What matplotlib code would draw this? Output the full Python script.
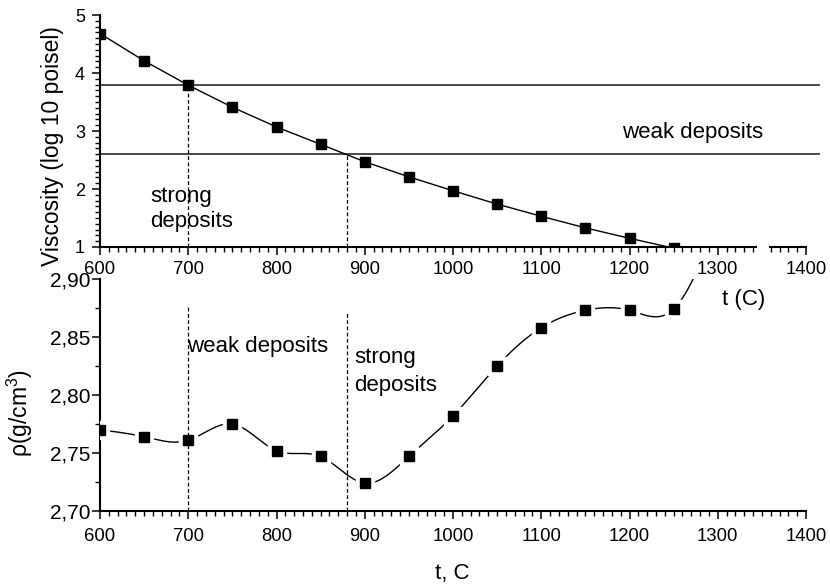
import numpy as np
import matplotlib
matplotlib.use("Agg")
import matplotlib.pyplot as plt
from matplotlib import ticker
from matplotlib.patches import Rectangle

plt.rcParams["font.family"] = ["Liberation Sans", "DejaVu Sans"]
plt.rcParams["mathtext.fontset"] = "custom"
plt.rcParams["mathtext.rm"] = "Liberation Sans"

# --- data -------------------------------------------------------------
visc_temps = [600, 650, 700, 750, 800, 850, 900, 950, 1000, 1050, 1100, 1150, 1200, 1250]
viscosity = [4.68, 4.21, 3.79, 3.41, 3.07, 2.77, 2.47, 2.21, 1.97, 1.74, 1.53, 1.33, 1.15, 0.98]

dens_temps = [600, 650, 700, 750, 800, 850, 900, 950, 1000, 1050, 1100, 1150, 1200, 1250, 1300]
density = [2.770, 2.764, 2.761, 2.775, 2.752, 2.747, 2.724, 2.747, 2.782, 2.825,
           2.858, 2.873, 2.873, 2.874, 2.950]

visc_levels = [3.8, 2.6]          # deposit thresholds (log10 poise)
visc_cut_temps = [700, 880]       # temperatures where thresholds are crossed
dens_cut_tops = [2.876, 2.872]


def natural_spline(x, y, xs):
    x = np.asarray(x, float)
    y = np.asarray(y, float)
    n = len(x)
    h = np.diff(x)
    A = np.zeros((n, n))
    r = np.zeros(n)
    A[0, 0] = 1.0
    A[-1, -1] = 1.0
    for i in range(1, n - 1):
        A[i, i - 1] = h[i - 1]
        A[i, i] = 2 * (h[i - 1] + h[i])
        A[i, i + 1] = h[i]
        r[i] = 6 * ((y[i + 1] - y[i]) / h[i] - (y[i] - y[i - 1]) / h[i - 1])
    M = np.linalg.solve(A, r)
    idx = np.clip(np.searchsorted(x, xs) - 1, 0, n - 2)
    x0, x1 = x[idx], x[idx + 1]
    hh = x1 - x0
    a = x1 - xs
    b = xs - x0
    return (M[idx] * a ** 3 / (6 * hh) + M[idx + 1] * b ** 3 / (6 * hh)
            + (y[idx] / hh - M[idx] * hh / 6) * a
            + (y[idx + 1] / hh - M[idx + 1] * hh / 6) * b)


W, H = 830, 586
fig = plt.figure(figsize=(W / 100, H / 100), dpi=100)

ax1 = fig.add_axes([100 / W, 1 - 247 / H, 706 / W, 232 / H])
ax2 = fig.add_axes([100 / W, 1 - 511 / H, 706 / W, 232 / H])

for ax in (ax1, ax2):
    for s in ("top", "right"):
        ax.spines[s].set_visible(False)
    for s in ("left", "bottom"):
        ax.spines[s].set_linewidth(1.5)
    ax.set_xlim(600, 1400)
    ax.xaxis.set_major_locator(ticker.MultipleLocator(100))
    ax.xaxis.set_minor_locator(ticker.MultipleLocator(10))
    ax.tick_params(which="major", direction="out", length=5.8, width=1.1)
    ax.tick_params(which="minor", direction="out", length=3.4, width=1.0)
    ax.tick_params(axis="x", labelsize=13.3)

# --- viscosity panel --------------------------------------------------
ax1.set_ylim(1, 5)
ax1.yaxis.set_major_locator(ticker.MultipleLocator(1))
ax1.yaxis.set_minor_locator(ticker.MultipleLocator(0.1))
ax1.tick_params(axis="y", labelsize=13, pad=5)
ax1.tick_params(axis="x", pad=4.5)

ax1.plot(visc_temps, viscosity, color="black", lw=1.0, zorder=3)
ax1.plot(visc_temps, viscosity, "s", color="black", ms=7.8, zorder=5)

for lvl in visc_levels:
    ax1.plot([600, 1415], [lvl, lvl], color="#3a3a3a", lw=1.3, clip_on=False, zorder=2)
for t, lvl in zip(visc_cut_temps, visc_levels):
    ax1.plot([t, t], [1, lvl], color="black", lw=0.9, ls=(0, (3, 2)), zorder=2)

ax1.text(656.7, 1.781, "strong", fontsize=16, va="baseline", ha="left")
ax1.text(656.7, 1.350, "deposits", fontsize=16, va="baseline", ha="left")
ax1.text(1191.5, 2.879, "weak deposits", fontsize=16, va="baseline", ha="left")

# --- density panel ----------------------------------------------------
ax2.set_ylim(2.70, 2.90)
ax2.yaxis.set_major_locator(ticker.MultipleLocator(0.05))
ax2.yaxis.set_minor_locator(ticker.MultipleLocator(0.025))
ax2.yaxis.set_major_formatter(
    ticker.FuncFormatter(lambda v, p: f"{v:.2f}".replace(".", ",")))
ax2.tick_params(axis="y", labelsize=15, pad=1)
ax2.tick_params(axis="x", pad=6.5)

xs = np.linspace(dens_temps[0], dens_temps[-1], 1500)
ax2.plot(xs, natural_spline(dens_temps, density, xs), color="black", lw=1.0, zorder=2)
ax2.plot(dens_temps, density, "s", color="white", ms=13.0, zorder=3)
for t, top in zip(visc_cut_temps, dens_cut_tops):
    ax2.plot([t, t], [2.70, top], color="black", lw=0.9, ls=(0, (3, 2)), zorder=4)
ax2.plot(dens_temps, density, "s", color="black", ms=7.8, zorder=5)

ax2.text(698.2, 2.837, "weak deposits", fontsize=16, va="baseline", ha="left")
ax2.text(887.8, 2.8276, "strong", fontsize=16, va="baseline", ha="left")
ax2.text(887.8, 2.8034, "deposits", fontsize=16, va="baseline", ha="left")

# --- axis titles ------------------------------------------------------
fig.text(52 / W, 1 - 146 / H, "Viscosity (log 10 poisel)", rotation=90,
         fontsize=16.5, ha="center", va="center")
fig.text(20 / W, 1 - 413 / H, "ρ(g/cm$^3$)", rotation=90,
         fontsize=16.5, ha="center", va="center")
fig.text(722 / W, 1 - 305 / H, "t (C)", fontsize=16, ha="left", va="baseline")
fig.text(452.5 / W, 1 - 579 / H, "t, C", fontsize=16, ha="center", va="baseline")

# small break in the upper temperature axis
fig.patches.append(Rectangle((757 / W, 1 - 253 / H), 12 / W, 8 / H,
                             transform=fig.transFigure, facecolor="white",
                             edgecolor="none", zorder=10))

fig.savefig("out.png", dpi=100)
